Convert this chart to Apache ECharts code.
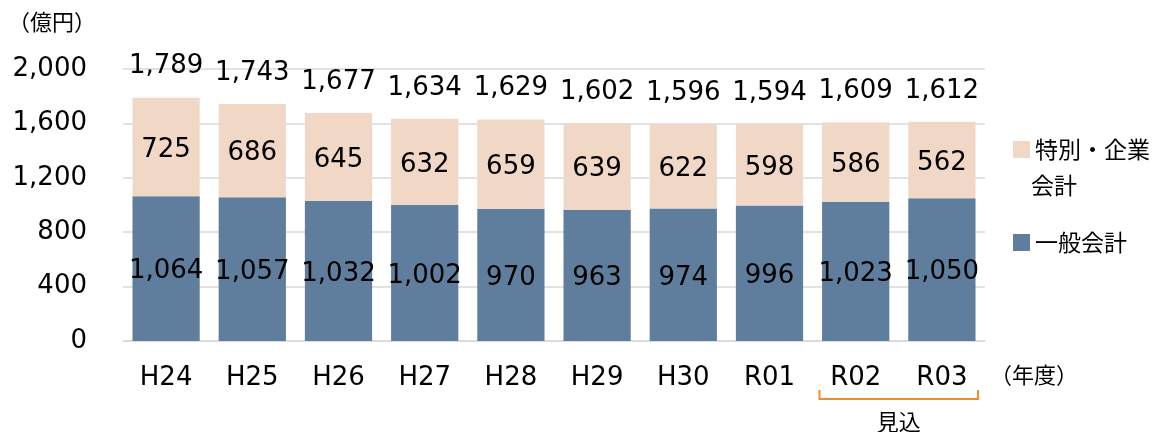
<!DOCTYPE html>
<html>
<head>
<meta charset="utf-8">
<script src="https://cdn.jsdelivr.net/npm/echarts@6/dist/echarts.min.js"></script>
<style>
  html, body { margin: 0; padding: 0; background: #fff; }
  #main { width: 1155px; height: 432px; }
</style>
</head>
<body>
<div id="main"></div>
<script>
// 年度
const years = ['H24', 'H25', 'H26', 'H27', 'H28', 'H29', 'H30', 'R01', 'R02', 'R03'];
// 一般会計
const generalValues = [1064, 1057, 1032, 1002, 970, 963, 974, 996, 1023, 1050];
// 特別・企業会計
const specialValues = [725, 686, 645, 632, 659, 639, 622, 598, 586, 562];
// 合計（棒の上のラベル）
const totalValues = [1789, 1743, 1677, 1634, 1629, 1602, 1596, 1594, 1609, 1612];
// 縦軸
const yTicks = [0, 400, 800, 1200, 1600, 2000];

const numFont = "'DejaVu Sans', 'Noto Sans CJK JP', sans-serif";
const jpFont = "'Noto Sans CJK JP', sans-serif";
const fmt = v => v.toLocaleString('en-US');

const chart = echarts.init(document.getElementById('main'));

const option = {
  animation: false,
  grid: { left: 123, right: 170, top: 69, bottom: 91 },
  legend: [
    {
      data: ['特別・企業会計'],
      left: 1008, top: 133,
      icon: 'rect', itemWidth: 17, itemHeight: 17, itemGap: 0,
      formatter: () => '特別・企業',
      textStyle: { fontFamily: jpFont, fontSize: 23, color: '#000', padding: [0, 0, 0, 0] },
      selectedMode: false
    },
    {
      data: ['一般会計'],
      left: 1008, top: 226,
      icon: 'rect', itemWidth: 17, itemHeight: 17,
      textStyle: { fontFamily: jpFont, fontSize: 23, color: '#000', padding: [0, 0, 0, 0] },
      selectedMode: false
    }
  ],
  xAxis: {
    type: 'category',
    data: years,
    axisLine: { lineStyle: { color: '#D9D9D9', width: 1.5 } },
    axisTick: { show: false },
    axisLabel: { margin: 24, fontFamily: numFont, fontSize: 26, color: '#000' }
  },
  yAxis: {
    type: 'value',
    min: yTicks[0],
    max: yTicks[yTicks.length - 1],
    interval: 400,
    axisLine: { show: false },
    axisTick: { show: false },
    splitLine: { lineStyle: { color: '#D9D9D9', width: 1.5 } },
    axisLabel: { margin: 36, fontFamily: numFont, fontSize: 26, color: '#000', formatter: fmt }
  },
  series: [
    {
      name: '一般会計',
      type: 'bar',
      stack: 'total',
      barCategoryGap: '22%',
      data: generalValues,
      itemStyle: { color: '#5F7E9D' },
      label: {
        show: true, position: 'inside', offset: [0, 3], formatter: p => fmt(p.value),
        fontFamily: numFont, fontSize: 26, color: '#000'
      }
    },
    {
      name: '特別・企業会計',
      type: 'bar',
      stack: 'total',
      data: specialValues,
      itemStyle: { color: '#F1D8C6' },
      label: {
        show: true, position: 'inside', offset: [0, 3], formatter: p => fmt(p.value),
        fontFamily: numFont, fontSize: 26, color: '#000'
      }
    },
    {
      name: '合計',
      type: 'scatter',
      data: totalValues,
      symbolSize: 0,
      silent: true,
      z: 5,
      itemStyle: { opacity: 1 },
      label: {
        show: true, position: 'top', distance: 18, formatter: p => fmt(p.value),
        fontFamily: numFont, fontSize: 26, color: '#000'
      }
    }
  ]
};
chart.setOption(option);

// 見込の括弧と注記
const x1 = chart.convertToPixel({ xAxisIndex: 0 }, 'R02');
const x2 = chart.convertToPixel({ xAxisIndex: 0 }, 'R03');
const band = x2 - x1;
const bl = x1 - band * 0.42;
const br = x2 + band * 0.42;
chart.setOption({
  graphic: [
    { type: 'text', left: 8, top: 11, style: { text: '（億円）', font: '22px ' + jpFont, fill: '#000' } },
    { type: 'text', left: 990, top: 364, style: { text: '（年度）', font: '22px ' + jpFont, fill: '#000' } },
    { type: 'text', left: 1031, top: 174, style: { text: '会計', font: '23px ' + jpFont, fill: '#000' } },
    {
      type: 'polyline',
      shape: { points: [[bl, 390], [bl, 399], [br, 399], [br, 390]] },
      style: { stroke: '#F28A30', lineWidth: 2, fill: null }
    },
    {
      type: 'text', x: (bl + br) / 2, y: 422,
      style: { text: '見込', font: '22px ' + jpFont, fill: '#000', align: 'center', verticalAlign: 'middle' }
    }
  ]
});
</script>
</body>
</html>
